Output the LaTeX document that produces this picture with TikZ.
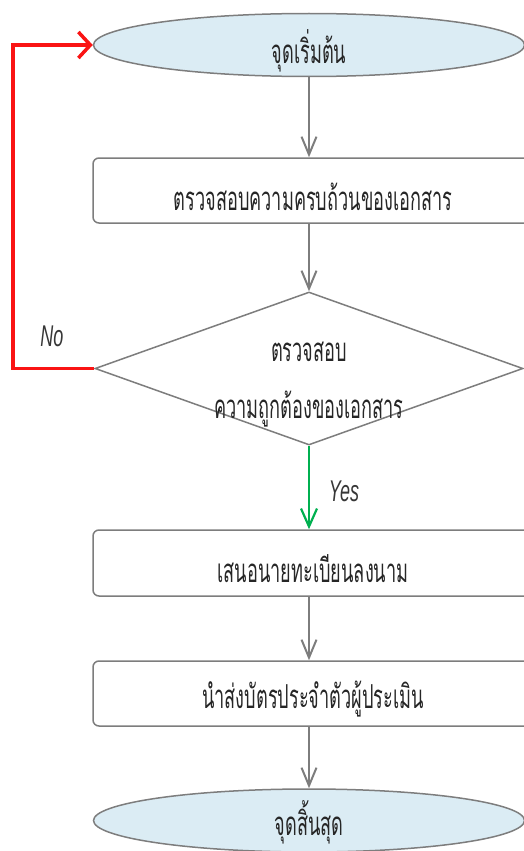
\documentclass[tikz,border=0pt]{standalone}
\usepackage{fontspec}
\usetikzlibrary{shapes.geometric,arrows.meta}
\newfontfamily\thaifont[Script=Thai,FakeStretch=0.55]{Loma}
\newfontfamily\latfont[FakeStretch=0.6]{Liberation Sans}
\definecolor{edgegray}{RGB}{125,125,125}
\definecolor{termfill}{RGB}{219,236,244}
\definecolor{redline}{RGB}{250,20,20}
\definecolor{greenline}{RGB}{0,176,80}
\definecolor{labelgray}{RGB}{55,55,55}
\tikzset{
  thaitext/.style={font=\thaifont\fontsize{33}{36}\selectfont, text=black!85},
  term/.style={ellipse, draw=edgegray, line width=1.5pt, fill=termfill, inner sep=0pt},
  procbox/.style={rectangle, rounded corners=6pt, draw=edgegray, line width=1.5pt, fill=white, inner sep=0pt},
  decision/.style={diamond, draw=edgegray, line width=1.5pt, fill=white, inner sep=0pt},
  inlabel/.style={label={[thaitext, yshift=-6pt]center:#1}},
  endlabel/.style={label={[thaitext, yshift=-2pt]center:#1}},
  flow/.style={draw=edgegray, line width=2pt, -{Straight Barb[length=18pt,width=15pt,line width=2pt]}},
  yesflow/.style={draw=greenline, line width=2.2pt, -{Straight Barb[length=18pt,width=16pt,line width=2.2pt]}},
  noflow/.style={draw=redline, line width=3.5pt, -{Straight Barb[length=12pt,width=26pt,line width=3.5pt]}},
  branchlabel/.style={font=\latfont\itshape\fontsize{30}{34}\selectfont, text=labelgray},
}
\begin{document}
\begin{tikzpicture}[x=1pt,y=-1pt]
\clip (0,0) rectangle (524,851);
\useasboundingbox (0,0) rectangle (524,851);
\node[term, minimum width=431pt, minimum height=63pt, inlabel={จุดเริ่มต้น}] (start) at (309,45) {};
\node[procbox, minimum width=440pt, minimum height=65pt, inlabel={ตรวจสอบความครบถ้วนของเอกสาร}] (check1) at (313,190.5) {};
\node[decision, minimum width=428pt, minimum height=153pt] (dec) at (309,368.5) {};
\node[thaitext] (dect1) at (309,352) {ตรวจสอบ};
\node[thaitext] (dect2) at (309,409) {ความถูกต้องของเอกสาร};
\node[procbox, minimum width=440pt, minimum height=66pt, inlabel={เสนอนายทะเบียนลงนาม}] (propose) at (313,563) {};
\node[procbox, minimum width=440pt, minimum height=65pt, inlabel={นำส่งบัตรประจำตัวผู้ประเมิน}] (send) at (313,693.5) {};
\node[term, minimum width=431pt, minimum height=63pt, endlabel={จุดสิ้นสุด}] (finish) at (309,820.5) {};
\coordinate (loopx) at (13,368.5);
\draw[flow] (start.south) -- (start.south |- check1.north);
\draw[flow] (start.south |- check1.south) -- (dec.north);
\draw[yesflow] (dec.south) -- (dec.south |- propose.north);
\draw[flow] (start.south |- propose.south) -- (start.south |- send.north);
\draw[flow] (start.south |- send.south) -- (finish.north);
\draw[noflow] (dec.west) -- (loopx) |- (start.west);
\node[branchlabel] (nolabel) at (52,336) {No};
\node[branchlabel] (yeslabel) at (344,491) {Yes};
\end{tikzpicture}
\end{document}
